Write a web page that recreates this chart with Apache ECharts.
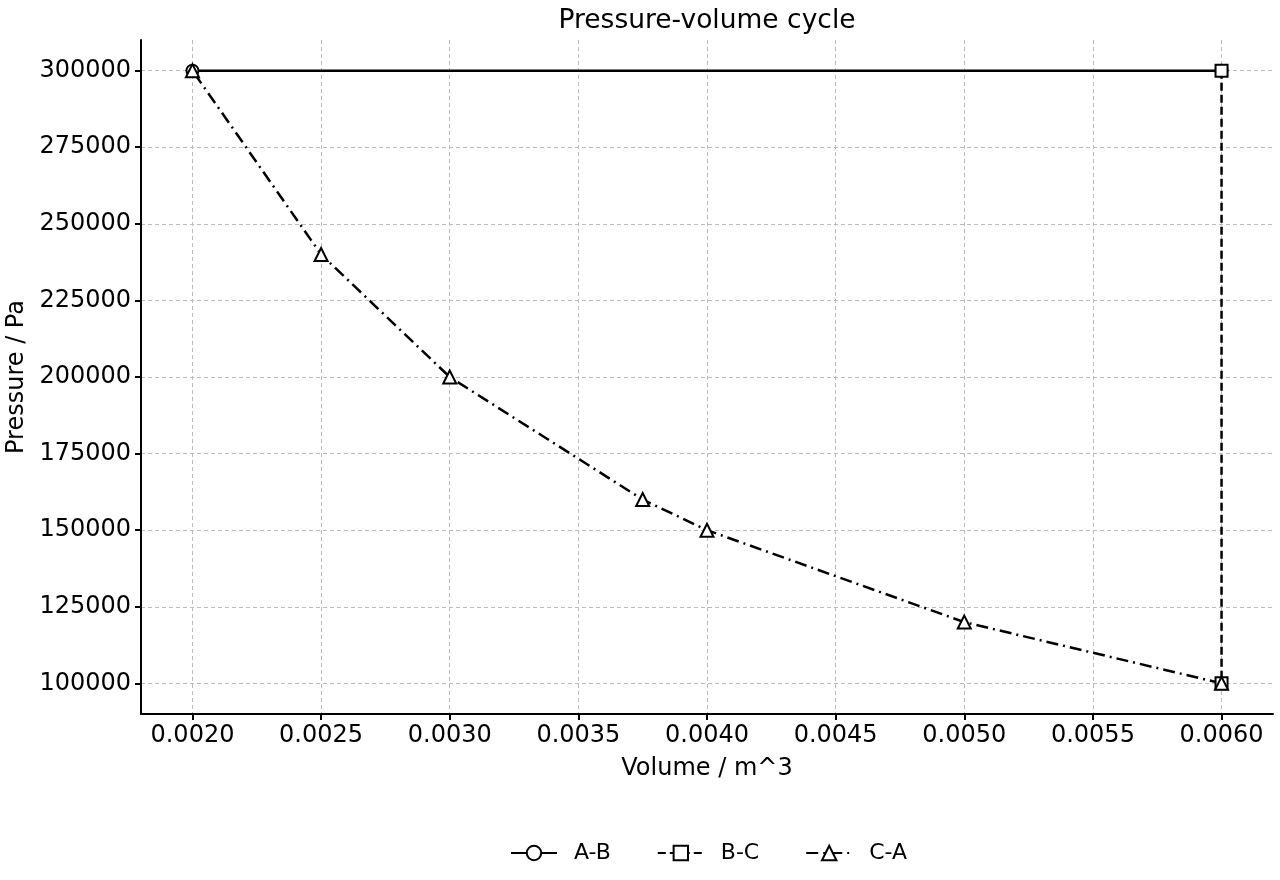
<!DOCTYPE html>
<html>
<head>
<meta charset="utf-8">
<script src="https://cdn.jsdelivr.net/npm/echarts@6/dist/echarts.min.js"></script>
<style>
  html, body { margin: 0; padding: 0; background: #fff; }
  #main { width: 1280px; height: 880px; }
</style>
</head>
<body>
<div id="main"></div>
<script>
// data
const abVolume = [0.002, 0.006];
const abPressure = [300000, 300000];
const bcVolume = [0.006, 0.006];
const bcPressure = [300000, 100000];
const caVolume = [0.006, 0.005, 0.004, 0.00375, 0.003, 0.0025, 0.002];
const caPressure = [100000, 120000, 150000, 160000, 200000, 240000, 300000];
// tick labels
const volumeTicks = [0.002, 0.0025, 0.003, 0.0035, 0.004, 0.0045, 0.005, 0.0055, 0.006];
const pressureTicks = [100000, 125000, 150000, 175000, 200000, 225000, 250000, 275000, 300000];

const font = 'DejaVu Sans';

function pairs(xs, ys) {
    return xs.map((x, i) => [x, ys[i]]);
}

function makeSeries(name, xs, ys, symbol, lineType) {
    return {
        name: name,
        type: 'line',
        data: pairs(xs, ys),
        symbol: symbol,
        symbolSize: symbol === 'triangle' ? 13 : 12,
        showAllSymbol: true,
        animation: false,
        lineStyle: { color: '#000', width: 2.5, type: lineType },
        itemStyle: { color: '#fff', borderColor: '#000', borderWidth: 2 }
    };
}

const chart = echarts.init(document.getElementById('main'));

const option = {
    backgroundColor: '#fff',
    title: {
        text: 'Pressure-volume cycle',
        left: 702,
        textAlign: 'center',
        top: 3,
        textStyle: { fontFamily: font, fontSize: 26.5, fontWeight: 'normal', color: '#000' }
    },
    legend: {
        bottom: 11,
        left: 505,
        itemWidth: 46,
        itemHeight: 18,
        itemGap: 46,
        textStyle: { fontFamily: font, fontSize: 22, color: '#000', padding: [0, 0, 0, 12] },
        data: ['A-B', 'B-C', 'C-A']
    },
    grid: { left: 141, right: 7, top: 40, bottom: 166, containLabel: false, outerBoundsMode: 'none' },
    xAxis: {
        type: 'value',
        min: 0.0018,
        max: 0.0062,
        name: 'Volume / m^3',
        nameLocation: 'middle',
        nameGap: 43,
        nameTextStyle: { fontFamily: font, fontSize: 24, color: '#000' },
        axisLine: { show: true, lineStyle: { color: '#000', width: 2 } },
        axisTick: { show: true, customValues: volumeTicks, length: 6, lineStyle: { color: '#000', width: 2 } },
        axisLabel: {
            customValues: volumeTicks,
            fontFamily: font, fontSize: 24, color: '#000', margin: 10,
            formatter: v => v.toFixed(4)
        },
        splitLine: { show: true, lineStyle: { color: '#bbb', width: 1, type: [4, 3] } }
    },
    yAxis: {
        type: 'value',
        min: 90000,
        max: 310000,
        name: 'Pressure / Pa',
        nameLocation: 'middle',
        nameGap: 109,
        nameTextStyle: { fontFamily: font, fontSize: 24, color: '#000' },
        axisLine: { show: true, lineStyle: { color: '#000', width: 2 } },
        axisTick: { show: true, customValues: pressureTicks, length: 6, lineStyle: { color: '#000', width: 2 } },
        axisLabel: {
            customValues: pressureTicks,
            fontFamily: font, fontSize: 24, color: '#000', margin: 10,
            formatter: v => String(v)
        },
        splitLine: { show: true, lineStyle: { color: '#bbb', width: 1, type: [4, 3] } }
    },
    series: [
        makeSeries('A-B', abVolume, abPressure, 'circle', 'solid'),
        makeSeries('B-C', bcVolume, bcPressure, 'rect', [8, 4]),
        makeSeries('C-A', caVolume, caPressure, 'triangle', [12, 5, 2, 5])
    ]
};

chart.setOption(option);
</script>
</body>
</html>
